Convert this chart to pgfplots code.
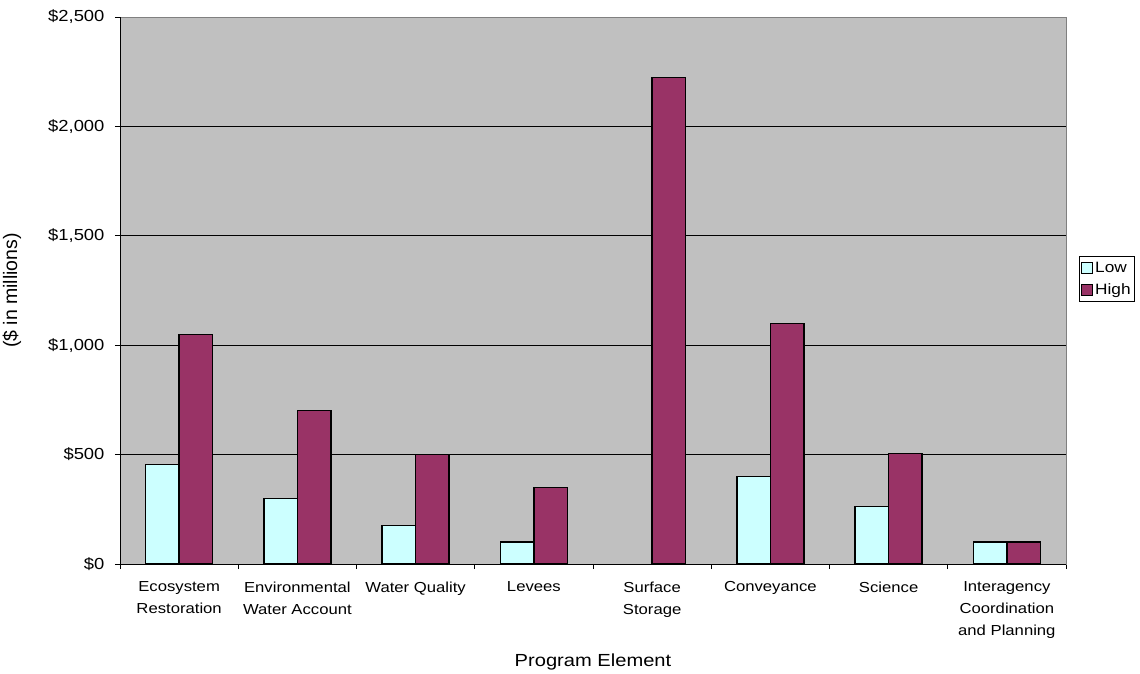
\documentclass[border=0pt]{standalone}
\usepackage{pgfplots}
\pgfplotsset{compat=1.18}
\usepackage{fontspec}
\setmainfont{Liberation Sans}
\newfontfamily\wide[FakeStretch=1.15]{Liberation Sans}
\definecolor{lowc}{HTML}{CCFFFF}
\definecolor{highc}{HTML}{993366}
\definecolor{plotbg}{HTML}{C0C0C0}
\begin{document}
\begin{tikzpicture}
\path[use as bounding box] (0,0) rectangle (1140pt,673pt);
\begin{axis}[
  at={(120pt,109pt)}, anchor=south west,
  width=946pt, height=547pt, scale only axis,
  xmin=-0.5, xmax=7.5, ymin=0, ymax=2500,
  ybar=0pt, bar width=33.5pt,
  axis background/.style={fill=plotbg},
  axis line style={draw=gray, line width=0.8pt},
  tick align=outside,
  xtick pos=bottom, ytick pos=left,
  major tick length=5pt, minor tick length=5pt,
  tick style={black, line width=0.8pt},
  xtick={0,...,7},
  major x tick style={draw=none},
  minor xtick={-0.5,0.5,...,7.5},
  xticklabels={{Ecosystem\\Restoration},{Environmental\\Water Account},{Water Quality},{Levees},{Surface\\Storage},{Conveyance},{Science},{Interagency\\Coordination\\and Planning}},
  xticklabel style={align=center, font=\wide\fontsize{14.5}{22}\selectfont, anchor=north, yshift=-9pt},
  ytick={0,500,1000,1500,2000},
  yticklabels={\$0,\$500,\$1{,}000,\$1{,}500,\$2{,}000},
  extra y ticks={2500},
  extra y tick labels={\$2{,}500},
  extra y tick style={grid=none},
  yticklabel style={font=\wide\fontsize{16}{18}\selectfont, anchor=east, xshift=-7pt},
  ymajorgrids,
  major grid style={black, line width=0.7pt},
  xlabel={Program Element},
  ylabel={(\$ in millions)},
  every axis x label/.style={at={(axis description cs:0.5,-0.1800)}, anchor=center, font=\wide\fontsize{17.5}{20}\selectfont},
  every axis y label/.style={at={(axis description cs:-0.1142,0.5)}, rotate=90, anchor=center, font=\fontsize{19.5}{22}\selectfont},
  legend style={at={(axis description cs:1.0137,0.563)}, anchor=north west, draw=black, line width=0.8pt, fill=white, font=\wide\fontsize{15}{17}\selectfont, inner xsep=2pt, inner ysep=4pt, row sep=5pt, cells={anchor=west}},
  legend cell align=left,
]
\addplot[fill=lowc, draw=black, line width=1.3pt,
  legend image code/.code={\draw[fill=lowc, draw=black, line width=0.8pt] (0pt,-5.5pt) rectangle (11pt,5.5pt);}]
  coordinates {(0,455) (1,300) (2,175) (3,100) (5,400) (6,262) (7,100)};
\addplot[fill=highc, draw=black, line width=1.3pt,
  legend image code/.code={\draw[fill=highc, draw=black, line width=0.8pt] (0pt,-5.5pt) rectangle (11pt,5.5pt);}]
  coordinates {(0,1050) (1,700) (2,500) (3,350) (4,2225) (5,1100) (6,505) (7,100)};
\legend{Low,High}
\draw[black, line width=0.8pt] (rel axis cs:0,0) -- (rel axis cs:0,1);
\draw[black, line width=0.8pt] (rel axis cs:0,0) -- (rel axis cs:1,0);
\end{axis}
\end{tikzpicture}
\end{document}
